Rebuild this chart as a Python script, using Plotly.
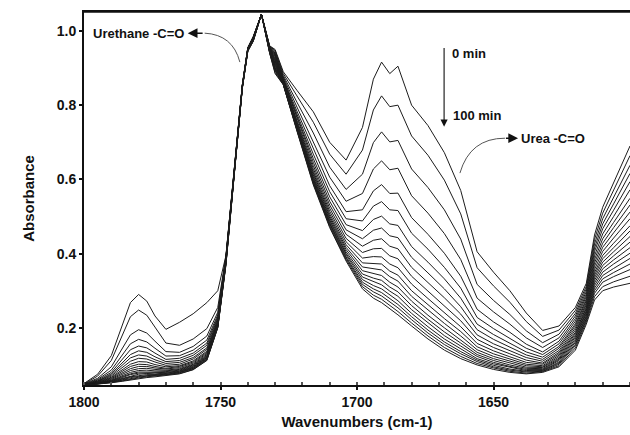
import plotly.graph_objects as go

wavenumbers = [1800, 1795, 1790, 1786, 1783, 1780, 1777, 1774, 1770, 1765, 1760, 1755, 1751, 1748,
               1745, 1742, 1740, 1738, 1735, 1732, 1730, 1727, 1722, 1716, 1710, 1704, 1698, 1694,
               1691, 1688, 1685, 1680, 1674, 1668, 1662, 1656, 1650, 1644, 1638, 1632, 1626, 1620,
               1616, 1613, 1610, 1606, 1600]

abs_0min = [.050,.075,.125,.210,.268,.290,.272,.232,.196,.215,.238,.268,.300,.395,.620,.855,.955,.985,1.045,.960,.950,.890,.840,.782,.700,.652,.740,.870,.916,.885,.905,.800,.745,.672,.570,.405,.350,.300,.240,.193,.205,.255,.320,.450,.525,.590,.690]
abs_5min = [.049,.070,.112,.182,.230,.248,.234,.202,.159,.153,.170,.198,.255,.394,.620,.855,.955,.984,1.045,.959,.947,.885,.825,.754,.668,.614,.679,.787,.825,.796,.800,.717,.665,.598,.507,.362,.313,.269,.217,.177,.194,.247,.312,.438,.509,.570,.664]
abs_10min = [.049,.064,.095,.146,.181,.195,.186,.164,.136,.134,.150,.178,.242,.392,.619,.854,.954,.984,1.045,.958,.944,.880,.808,.725,.633,.573,.614,.699,.728,.701,.705,.628,.578,.518,.439,.317,.274,.236,.192,.160,.183,.239,.305,.426,.494,.551,.638]
abs_15min = [.048,.061,.086,.128,.157,.169,.162,.145,.124,.125,.140,.167,.235,.391,.619,.854,.954,.983,1.045,.957,.940,.876,.795,.701,.606,.541,.562,.628,.650,.626,.630,.556,.509,.454,.384,.280,.243,.210,.173,.147,.173,.232,.298,.415,.480,.534,.616]
abs_20min = [.047,.059,.080,.116,.141,.151,.146,.132,.115,.118,.132,.159,.230,.390,.618,.853,.953,.982,1.045,.956,.937,.872,.784,.682,.583,.513,.518,.569,.586,.562,.563,.497,.452,.401,.339,.250,.216,.188,.156,.135,.164,.225,.291,.405,.467,.517,.594]
abs_25min = [.047,.057,.076,.107,.128,.138,.134,.122,.109,.112,.126,.153,.226,.389,.618,.853,.953,.982,1.045,.955,.934,.870,.776,.668,.567,.494,.488,.528,.540,.518,.516,.455,.412,.363,.307,.228,.198,.172,.145,.128,.157,.218,.285,.394,.453,.500,.572]
abs_30min = [.047,.056,.073,.099,.119,.127,.124,.114,.104,.107,.120,.146,.222,.388,.617,.852,.952,.981,1.045,.954,.931,.868,.770,.656,.553,.478,.462,.492,.501,.480,.476,.419,.377,.332,.280,.210,.182,.159,.135,.121,.150,.211,.278,.384,.440,.484,.549]
abs_35min = [.047,.055,.070,.093,.110,.118,.116,.108,.099,.102,.116,.142,.219,.386,.617,.852,.952,.980,1.045,.953,.927,.866,.764,.646,.541,.464,.440,.463,.469,.448,.443,.390,.348,.305,.257,.195,.169,.148,.127,.115,.145,.206,.273,.375,.428,.470,.531]
abs_40min = [.046,.054,.067,.087,.102,.109,.108,.101,.095,.098,.111,.137,.216,.385,.616,.851,.951,.980,1.045,.952,.924,.864,.759,.637,.531,.452,.420,.436,.440,.420,.413,.363,.322,.281,.237,.181,.157,.138,.120,.110,.139,.200,.267,.366,.417,.456,.512]
abs_45min = [.046,.053,.065,.082,.096,.102,.101,.096,.091,.096,.108,.134,.214,.384,.616,.851,.951,.979,1.045,.951,.921,.863,.755,.629,.522,.441,.403,.413,.414,.394,.386,.339,.299,.260,.219,.169,.147,.130,.113,.105,.134,.194,.262,.357,.406,.442,.494]
abs_50min = [.046,.052,.063,.078,.090,.096,.096,.092,.089,.093,.105,.131,.212,.383,.615,.850,.950,.979,1.045,.950,.918,.862,.751,.622,.514,.432,.388,.392,.391,.372,.362,.318,.279,.241,.203,.158,.138,.122,.107,.102,.130,.188,.256,.349,.395,.428,.475]
abs_55min = [.046,.051,.061,.075,.085,.090,.091,.088,.086,.090,.102,.128,.210,.381,.615,.850,.950,.978,1.045,.949,.914,.861,.748,.617,.507,.424,.375,.374,.372,.353,.342,.300,.262,.225,.190,.149,.130,.115,.102,.098,.126,.184,.252,.342,.386,.416,.461]
abs_60min = [.046,.051,.059,.071,.080,.085,.086,.084,.084,.088,.100,.125,.209,.380,.614,.849,.949,.977,1.045,.948,.911,.860,.745,.612,.501,.417,.364,.360,.356,.338,.326,.285,.248,.212,.178,.141,.123,.110,.098,.095,.122,.179,.247,.335,.377,.405,.446]
abs_65min = [.046,.050,.058,.068,.076,.081,.082,.081,.082,.086,.098,.123,.207,.379,.614,.849,.949,.977,1.045,.947,.908,.859,.742,.607,.496,.411,.354,.346,.341,.323,.310,.272,.234,.200,.168,.134,.117,.105,.094,.093,.118,.175,.243,.328,.368,.394,.431]
abs_70min = [.045,.050,.057,.066,.074,.078,.079,.079,.080,.084,.096,.121,.206,.378,.613,.848,.948,.976,1.045,.946,.905,.858,.740,.603,.491,.405,.345,.334,.328,.310,.297,.260,.223,.189,.159,.128,.112,.100,.091,.090,.115,.170,.239,.321,.359,.383,.416]
abs_75min = [.045,.049,.056,.064,.071,.075,.077,.076,.078,.083,.094,.120,.205,.376,.613,.848,.948,.975,1.045,.945,.901,.858,.738,.600,.487,.400,.337,.324,.316,.299,.285,.249,.213,.179,.151,.123,.107,.096,.088,.088,.112,.165,.234,.314,.350,.372,.401]
abs_80min = [.045,.049,.055,.062,.068,.071,.074,.074,.077,.081,.093,.118,.204,.375,.612,.847,.947,.975,1.045,.944,.898,.857,.736,.596,.483,.396,.330,.314,.305,.288,.273,.239,.203,.170,.143,.117,.103,.093,.085,.086,.108,.161,.230,.307,.341,.360,.387]
abs_85min = [.045,.049,.054,.060,.066,.069,.072,.073,.075,.080,.091,.116,.203,.374,.612,.847,.947,.974,1.045,.943,.895,.856,.735,.593,.480,.391,.323,.305,.295,.279,.263,.230,.194,.162,.136,.113,.099,.089,.083,.085,.105,.156,.225,.300,.332,.349,.372]
abs_90min = [.045,.048,.053,.059,.064,.067,.070,.071,.074,.079,.090,.115,.202,.373,.611,.846,.946,.973,1.045,.942,.892,.856,.733,.591,.476,.388,.317,.297,.286,.270,.254,.222,.186,.155,.130,.109,.095,.086,.081,.083,.102,.152,.221,.293,.323,.338,.357]
abs_95min = [.045,.048,.053,.057,.062,.065,.068,.070,.073,.077,.088,.113,.201,.371,.611,.846,.946,.973,1.045,.941,.888,.855,.732,.588,.473,.384,.311,.288,.277,.261,.244,.213,.178,.147,.123,.104,.092,.083,.078,.082,.098,.146,.216,.284,.311,.324,.339]
abs_100min = [.045,.048,.052,.056,.060,.063,.066,.068,.071,.076,.087,.112,.200,.370,.610,.845,.945,.972,1.045,.940,.885,.855,.730,.585,.470,.380,.305,.280,.268,.252,.235,.205,.170,.140,.117,.100,.088,.080,.076,.080,.095,.140,.210,.275,.300,.310,.320]

times_min = [0, 5, 10, 15, 20, 25, 30, 35, 40, 45, 50, 55, 60, 65, 70, 75, 80, 85, 90, 95, 100]
spectra = [abs_0min, abs_5min, abs_10min, abs_15min, abs_20min, abs_25min, abs_30min,
           abs_35min, abs_40min, abs_45min, abs_50min, abs_55min, abs_60min, abs_65min,
           abs_70min, abs_75min, abs_80min, abs_85min, abs_90min, abs_95min, abs_100min]

x_ticks = [1800, 1750, 1700, 1650]
y_ticks = [0.2, 0.4, 0.6, 0.8, 1.0]

for s in spectra:
    assert len(s) == len(wavenumbers), len(s)

FONT = "Liberation Sans, Arial, sans-serif"

fig = go.Figure()
for t, s in zip(times_min, spectra):
    fig.add_trace(go.Scatter(x=wavenumbers, y=s, mode="lines", name=f"{t} min",
                             line=dict(color="#1c1c1c", width=1), showlegend=False,
                             hoverinfo="skip"))

ann_font = dict(family=FONT, size=13, color="#111", weight="bold")

annotations = [
    dict(x=1797.6, y=0.994, xref="x", yref="y", text="Urethane -C=O", showarrow=False,
         xanchor="left", yanchor="middle", font=ann_font),
    dict(x=1762.0, y=0.994, ax=1756.0, ay=0.994, xref="x", yref="y", axref="x", ayref="y",
         text="", showarrow=True, arrowhead=2, arrowsize=1.3, arrowwidth=1.5, arrowcolor="#111"),
    dict(x=1666.0, y=0.940, xref="x", yref="y", text="0 min", showarrow=False,
         xanchor="left", yanchor="middle", font=ann_font),
    dict(x=1668.1, y=0.742, ax=1668.1, ay=0.958, xref="x", yref="y", axref="x", ayref="y",
         text="", showarrow=True, arrowhead=2, arrowsize=1.3, arrowwidth=1.1, arrowcolor="#111"),
    dict(x=1665.4, y=0.771, xref="x", yref="y", text="100 min", showarrow=False,
         xanchor="left", yanchor="middle", font=ann_font),
    dict(x=1640.6, y=0.711, xref="x", yref="y", text="Urea -C=O", showarrow=False,
         xanchor="left", yanchor="middle", font=ann_font),
    dict(x=1641.0, y=0.711, ax=1646.0, ay=0.711, xref="x", yref="y", axref="x", ayref="y",
         text="", showarrow=True, arrowhead=2, arrowsize=1.3, arrowwidth=1.5, arrowcolor="#111"),
]

shapes = [
    dict(type="path", xref="x", yref="y",
         path="M 1755.8,0.994 Q 1745.5,0.99 1742.9,0.916",
         line=dict(color="#555", width=1)),
    dict(type="path", xref="x", yref="y",
         path="M 1645.8,0.711 Q 1658.6,0.711 1662.3,0.617",
         line=dict(color="#555", width=1)),
    dict(type="line", xref="paper", yref="paper", x0=0, x1=1, y0=1, y1=1,
         line=dict(color="#111", width=1.5)),
]

fig.update_layout(
    width=630, height=435,
    margin=dict(l=84, r=0, t=12, b=50),
    paper_bgcolor="white", plot_bgcolor="white",
    annotations=annotations, shapes=shapes,
    font=dict(family=FONT, color="#111"),
)

fig.update_xaxes(
    range=[1800, 1600], autorange=False,
    tickvals=x_ticks, ticktext=[str(v) for v in x_ticks],
    ticks="outside", ticklen=3, tickwidth=1.5, tickcolor="#111",
    minor=dict(dtick=10, ticks="inside", ticklen=3, tickcolor="#555"),
    showline=True, linecolor="#111", linewidth=2, mirror=True,
    showgrid=False, zeroline=False,
    tickfont=dict(family=FONT, size=14, color="#111", weight="bold"),
    title=dict(text="Wavenumbers (cm-1)", standoff=8,
               font=dict(family=FONT, size=15, color="#111", weight="bold")),
    automargin=False,
)
fig.update_yaxes(
    range=[0.046, 1.051], autorange=False,
    tickvals=y_ticks, ticktext=[f"{v:.1f}" for v in y_ticks],
    ticks="outside", ticklen=3, tickwidth=1.5, tickcolor="#111",
    showline=True, linecolor="#111", linewidth=2,
    showgrid=False, zeroline=False,
    tickfont=dict(family=FONT, size=14, color="#111", weight="bold"),
    title=dict(text="Absorbance", standoff=18,
               font=dict(family=FONT, size=15, color="#111", weight="bold")),
    automargin=False,
)

fig.write_html("out.html")
